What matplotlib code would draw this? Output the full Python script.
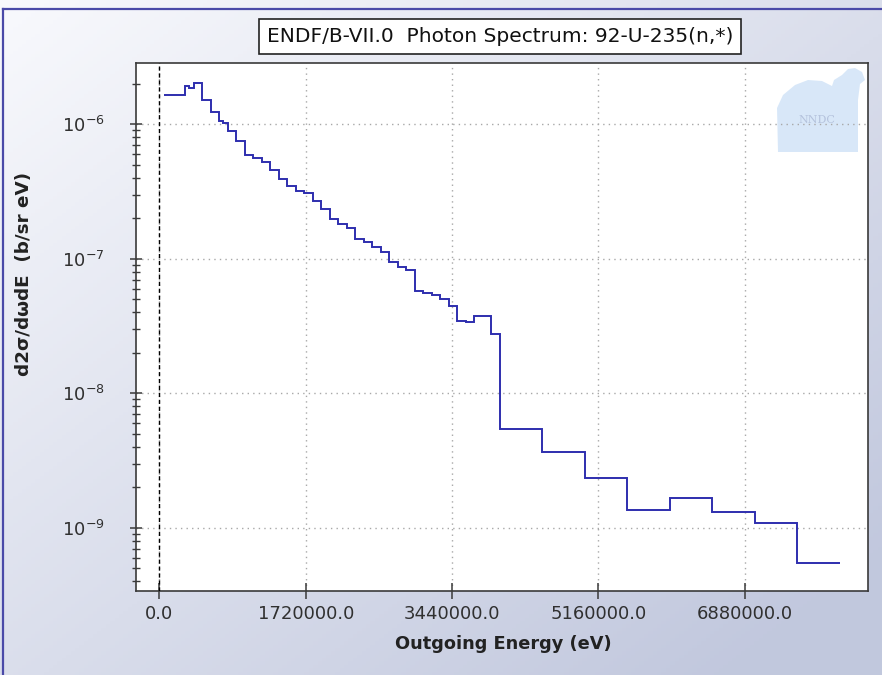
import numpy as np
import matplotlib
matplotlib.use("Agg")
import matplotlib.pyplot as plt
from matplotlib.patches import Polygon
from matplotlib.ticker import FixedLocator, FixedFormatter, LogLocator, NullFormatter

# ---- data (energies in eV, values in b/sr/eV) ----
edges_mev = [0.05, 0.3, 0.35, 0.4, 0.5, 0.6, 0.7, 0.75, 0.8, 0.9,
             1.0, 1.1, 1.2, 1.3, 1.4, 1.5, 1.6, 1.7, 1.8, 1.9,
             2.0, 2.1, 2.2, 2.3, 2.4, 2.5, 2.6, 2.7, 2.8, 2.9,
             3.0, 3.1, 3.2, 3.3, 3.4, 3.5, 3.6, 3.7, 3.9, 4.0,
             4.5, 5.0, 5.5, 6.0, 6.5, 7.0, 7.5, 8.0]
values = [1.65e-6, 1.93e-6, 1.85e-6, 2.02e-6, 1.52e-6, 1.24e-6, 1.06e-6, 1.03e-6, 8.9e-7,
          7.5e-7, 5.9e-7, 5.65e-7, 5.25e-7, 4.57e-7, 3.94e-7, 3.47e-7, 3.19e-7, 3.07e-7,
          2.69e-7, 2.35e-7, 1.96e-7, 1.80e-7, 1.70e-7, 1.40e-7, 1.34e-7, 1.23e-7, 1.13e-7,
          9.5e-8, 8.7e-8, 8.24e-8, 5.78e-8, 5.53e-8, 5.35e-8, 4.99e-8, 4.47e-8, 3.46e-8,
          3.37e-8, 3.75e-8, 2.75e-8, 5.38e-9, 3.66e-9, 2.36e-9, 1.35e-9, 1.66e-9, 1.31e-9,
          1.09e-9, 5.5e-10]
edges = [e * 1e6 for e in edges_mev]

xticks = [0.0, 1720000.0, 3440000.0, 5160000.0, 6880000.0]
xtick_labels = ["0.0", "1720000.0", "3440000.0", "5160000.0", "6880000.0"]
title = "ENDF/B-VII.0  Photon Spectrum: 92-U-235(n,*)"
xlabel = "Outgoing Energy (eV)"
ylabel = "d2\u03c3/d\u03c9dE  (b/sr eV)"

W, H = 882, 675
fig = plt.figure(figsize=(W / 100, H / 100), dpi=100)

# background gradient
bg = fig.add_axes([0, 0, 1, 1], zorder=-10)
gx, gy = np.meshgrid(np.linspace(0, 1, 200), np.linspace(0, 1, 200))
t = np.clip(0.55 * gx + 0.55 * gy, 0, 1)
c0 = np.array([0.975, 0.978, 0.992])
c1 = np.array([0.76, 0.785, 0.87])
img = c0[None, None, :] * (1 - t[..., None]) + c1[None, None, :] * t[..., None]
bg.imshow(img, extent=[0, 1, 0, 1], aspect='auto', origin='upper')
bg.plot([2.7 / W, 1], [1 - 8.7 / H, 1 - 8.7 / H], color='#4a4aa8', lw=1.6)
bg.plot([2.7 / W, 2.7 / W], [0, 1 - 8.7 / H], color='#4a4aa8', lw=1.6)
bg.set_xlim(0, 1); bg.set_ylim(0, 1)
bg.axis('off')

L, R, T, B = 136, 868, 62.7, 590.7
ax = fig.add_axes([L / W, 1 - B / H, (R - L) / W, (B - T) / H])
ax.set_facecolor('white')

ax.stairs(values, edges, color='#2e2eae', lw=1.4, baseline=None, zorder=5)

ax.set_yscale('log')
ax.set_xlim(-276300, 8331000)
ax.set_ylim(3.40e-10, 2.87e-6)

ax.xaxis.set_major_locator(FixedLocator(xticks))
ax.xaxis.set_major_formatter(FixedFormatter(xtick_labels))
ax.yaxis.set_major_locator(LogLocator(base=10, numticks=20))
ax.yaxis.set_minor_locator(LogLocator(base=10, subs=np.arange(2, 10), numticks=20))
ax.yaxis.set_minor_formatter(NullFormatter())

ax.grid(True, which='major', linestyle=(0, (1, 3)), color='#a8a8a8', lw=1.0)
ax.axvline(0, color='black', lw=1.0, ls=(0, (3, 2)), zorder=4)

for s in ax.spines.values():
    s.set_color('#3a3a3a')
    s.set_linewidth(1.2)

ax.tick_params(axis='x', which='major', direction='inout', length=12, width=1.1,
               color='#3a3a3a', labelsize=13, pad=4, labelcolor='#303030')
ax.tick_params(axis='y', which='major', direction='inout', length=9, width=1.1,
               color='#3a3a3a', labelsize=13, pad=18, labelcolor='#303030')
ax.tick_params(axis='y', which='minor', direction='inout', length=5.5, width=1.0,
               color='#3a3a3a')

# NNDC logo (faint)
def px2ax(px, py):
    return ((px - L) / (R - L), (B - py) / (B - T))

logo_px = [(778, 152), (777, 108), (783, 95), (795, 85), (808, 80), (822, 81),
           (832, 86), (834, 80), (842, 75), (848, 69), (855, 68), (862, 72),
           (865, 80), (860, 84), (858, 100), (858, 152)]
logo = Polygon([px2ax(*p) for p in logo_px], closed=True, transform=ax.transAxes,
               facecolor='#c8def6', edgecolor='none', alpha=0.7, zorder=1)
ax.add_patch(logo)
ax.text(*px2ax(817, 120), "NNDC", transform=ax.transAxes, ha='center', va='center',
        fontsize=8, color='#b4c2dc', family='serif', zorder=2)

fig.text(500 / W, 1 - 36.5 / H, title, ha='center', va='center', fontsize=14.5,
         color='#111111',
         bbox=dict(boxstyle='square,pad=0.4', facecolor='white', edgecolor='#222222', lw=1.2))
fig.text(503 / W, 1 - 644 / H, xlabel, ha='center', va='center', fontsize=12.8,
         fontweight='bold', color='#222222')
fig.text(24.5 / W, 1 - 273.5 / H, ylabel, ha='center', va='center', fontsize=13.2,
         fontweight='bold', color='#222222', rotation=90)

fig.savefig('out.png', dpi=100)
